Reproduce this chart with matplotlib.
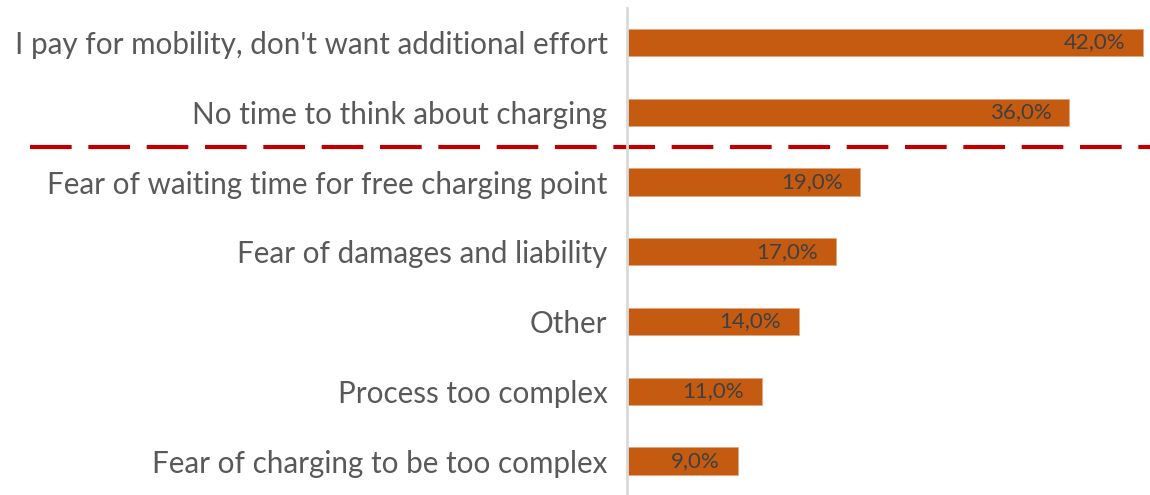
import matplotlib
matplotlib.use("Agg")
import matplotlib.pyplot as plt
import matplotlib.transforms as mtransforms

categories = [
    "I pay for mobility, don't want additional effort",
    "No time to think about charging",
    "Fear of waiting time for free charging point",
    "Fear of damages and liability",
    "Other",
    "Process too complex",
    "Fear of charging to be too complex",
]
values = [42.0, 36.0, 19.0, 17.0, 14.0, 11.0, 9.0]
value_labels = ["42,0%", "36,0%", "19,0%", "17,0%", "14,0%", "11,0%", "9,0%"]
separator_after = 1.5  # between 2nd and 3rd category

plt.rcParams['font.family'] = ['Lato', 'DejaVu Sans']

W, H = 1150, 495
fig = plt.figure(figsize=(W / 100, H / 100), dpi=100)
x0, x1 = 627, 1150
ax = fig.add_axes([x0 / W, 0, (x1 - x0) / W, 1 - 8 / H])

bar_color = "#C55A11"
ypos = list(range(len(categories)))
ax.barh(ypos, values, height=0.39, color=bar_color, edgecolor="#E0A880", linewidth=0.6)

ax.set_xlim(0, 42 * (x1 - x0) / (1143 - x0))
ax.set_ylim(6.487, -0.495)

for s in ["top", "right", "bottom"]:
    ax.spines[s].set_visible(False)
ax.spines["left"].set_color("#D9D9D9")
ax.spines["left"].set_linewidth(2)
ax.set_xticks([])
ax.set_yticks(ypos)
ax.set_yticklabels(categories, fontsize=21.3, color="#595959")
ax.tick_params(axis="y", length=0, pad=14)

offset = mtransforms.offset_copy(ax.transData, fig=fig, x=-18, y=0, units="dots")
for y, v, lab in zip(ypos, values, value_labels):
    ax.text(v, y, lab, transform=offset, ha="right", va="center",
            fontsize=16, color="#404040")

trans = mtransforms.blended_transform_factory(ax.transAxes, ax.transData)
ax.plot([(30 - x0) / (x1 - x0), 1.0], [separator_after, separator_after],
        transform=trans, color="#C00000", linewidth=3, linestyle=(0, (10, 4)),
        clip_on=False, solid_capstyle="butt", dash_capstyle="butt")

fig.savefig("out.png", dpi=100)
